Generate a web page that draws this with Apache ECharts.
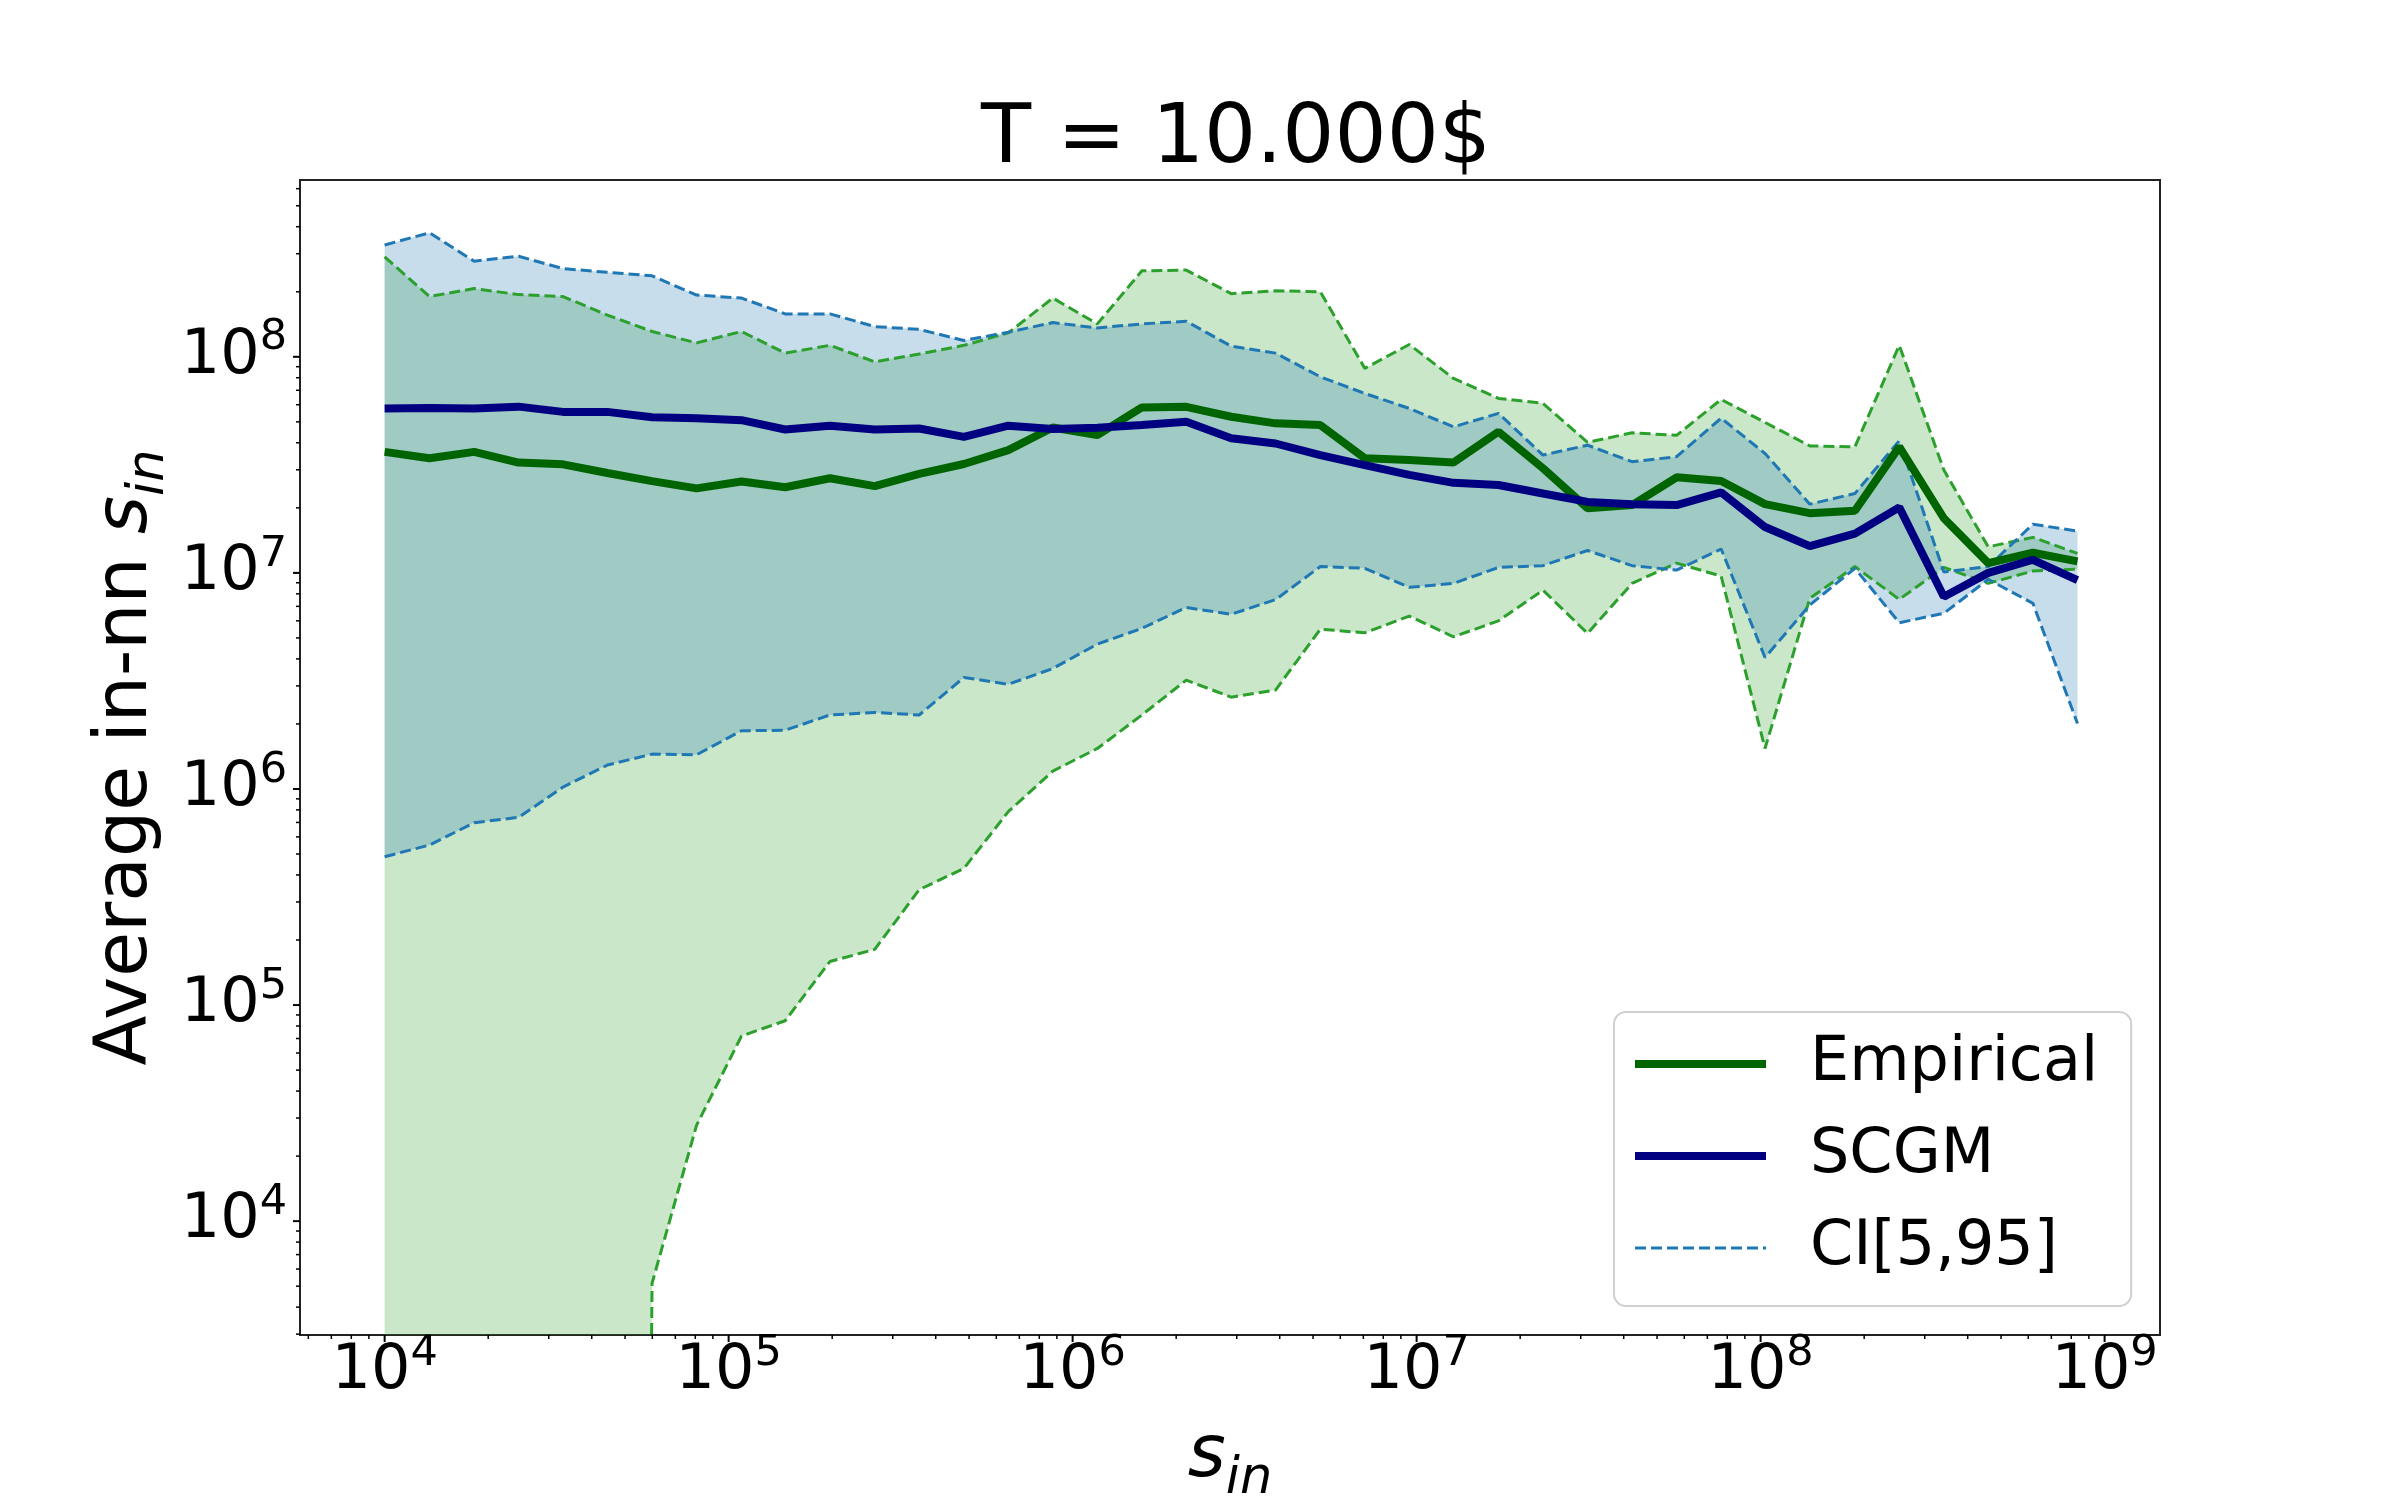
<!DOCTYPE html>
<html lang="en">
<head>
<meta charset="UTF-8">
<title>T = 10.000$</title>
<style>
  html, body { margin: 0; padding: 0; background: #fff; }
  #main { width: 2400px; height: 1500px; }
</style>
</head>
<body>
<div id="main"></div>
<script src="https://cdn.jsdelivr.net/npm/echarts@6/dist/echarts.min.js"></script>
<script>
// bin centres (s_in)
var sIn = [1.00e4, 1.35e4, 1.82e4, 2.45e4, 3.30e4, 4.44e4, 5.99e4, 8.07e4, 1.09e5, 1.46e5,
           1.97e5, 2.66e5, 3.58e5, 4.83e5, 6.50e5, 8.76e5, 1.18e6, 1.59e6, 2.14e6, 2.89e6,
           3.89e6, 5.25e6, 7.07e6, 9.52e6, 1.28e7, 1.73e7, 2.33e7, 3.14e7, 4.23e7, 5.70e7,
           7.68e7, 1.03e8, 1.39e8, 1.88e8, 2.53e8, 3.41e8, 4.59e8, 6.19e8, 8.34e8];

var empirical = [3.63e7, 3.39e7, 3.63e7, 3.24e7, 3.18e7, 2.90e7, 2.66e7, 2.46e7, 2.65e7, 2.49e7,
                 2.74e7, 2.52e7, 2.87e7, 3.19e7, 3.70e7, 4.71e7, 4.34e7, 5.83e7, 5.87e7, 5.28e7,
                 4.92e7, 4.83e7, 3.39e7, 3.33e7, 3.24e7, 4.50e7, 3.05e7, 1.99e7, 2.06e7, 2.77e7,
                 2.66e7, 2.08e7, 1.89e7, 1.94e7, 3.83e7, 1.79e7, 1.11e7, 1.24e7, 1.13e7];

var scgm = [5.77e7, 5.80e7, 5.77e7, 5.88e7, 5.56e7, 5.56e7, 5.25e7, 5.19e7, 5.09e7, 4.61e7,
            4.80e7, 4.61e7, 4.66e7, 4.26e7, 4.80e7, 4.63e7, 4.69e7, 4.83e7, 5.00e7, 4.20e7,
            3.97e7, 3.51e7, 3.15e7, 2.84e7, 2.61e7, 2.55e7, 2.33e7, 2.13e7, 2.08e7, 2.06e7,
            2.36e7, 1.63e7, 1.33e7, 1.52e7, 2.01e7, 7.75e6, 1.00e7, 1.15e7, 9.26e6];

// empirical CI (green); 0 = below the axis in the source
var empLow = [0, 0, 0, 0, 0, 0, 5.16e3, 2.78e4, 7.19e4, 8.46e4,
              1.59e5, 1.81e5, 3.42e5, 4.29e5, 7.85e5, 1.21e6, 1.54e6, 2.20e6, 3.19e6, 2.66e6,
              2.87e6, 5.49e6, 5.28e6, 6.31e6, 5.06e6, 6.00e6, 8.32e6, 5.25e6, 8.94e6, 1.11e7,
              9.66e6, 1.54e6, 7.62e6, 1.07e7, 7.54e6, 1.06e7, 8.94e6, 1.02e7, 1.04e7];
var empHigh = [2.90e8, 1.90e8, 2.07e8, 1.94e8, 1.90e8, 1.56e8, 1.31e8, 1.16e8, 1.31e8, 1.04e8,
               1.13e8, 9.48e7, 1.03e8, 1.13e8, 1.29e8, 1.87e8, 1.42e8, 2.50e8, 2.52e8, 1.96e8,
               2.02e8, 2.00e8, 8.84e7, 1.14e8, 7.94e7, 6.42e7, 6.09e7, 4.02e7, 4.45e7, 4.33e7,
               6.35e7, 4.97e7, 3.87e7, 3.83e7, 1.13e8, 2.99e7, 1.32e7, 1.46e7, 1.23e7];

// model CI (blue)
var modLow = [4.86e5, 5.50e5, 6.98e5, 7.39e5, 1.02e6, 1.29e6, 1.45e6, 1.44e6, 1.86e6, 1.87e6,
              2.20e6, 2.26e6, 2.20e6, 3.28e6, 3.05e6, 3.61e6, 4.68e6, 5.54e6, 6.92e6, 6.43e6,
              7.52e6, 1.07e7, 1.05e7, 8.57e6, 8.94e6, 1.06e7, 1.08e7, 1.27e7, 1.08e7, 1.03e7,
              1.29e7, 4.06e6, 7.10e6, 1.05e7, 5.88e6, 6.50e6, 9.33e6, 7.23e6, 2.01e6];
var modHigh = [3.29e8, 3.75e8, 2.77e8, 2.92e8, 2.56e8, 2.46e8, 2.37e8, 1.93e8, 1.87e8, 1.58e8,
               1.58e8, 1.38e8, 1.34e8, 1.19e8, 1.30e8, 1.44e8, 1.36e8, 1.42e8, 1.46e8, 1.12e8,
               1.04e8, 8.08e7, 6.77e7, 5.77e7, 4.74e7, 5.47e7, 3.51e7, 3.90e7, 3.27e7, 3.45e7,
               5.20e7, 3.57e7, 2.08e7, 2.33e7, 4.09e7, 1.01e7, 1.07e7, 1.68e7, 1.56e7];

var xMajorTicks = [1e4, 1e5, 1e6, 1e7, 1e8, 1e9];
var yMajorTicks = [1e4, 1e5, 1e6, 1e7, 1e8];

var X_MIN = 5675, X_MAX = 1.449e9;
var Y_MIN = 2972, Y_MAX = 6.58e8;
var FONT = 'DejaVu Sans';

// log-axis minor ticks at 2..9 x 10^k
function minorTicks(lo, hi) {
  var out = [];
  for (var k = 2; k <= 9; k++) {
    for (var m = 2; m <= 9; m++) {
      var v = m * Math.pow(10, k);
      if (v > lo && v < hi) out.push(v);
    }
  }
  return out;
}
var xMinorTicks = minorTicks(X_MIN, X_MAX);
var yMinorTicks = minorTicks(Y_MIN, Y_MAX);

function safe(v) { return v > 0 ? v : 1e-20; }
function pts(ys) {
  return sIn.map(function (x, i) { return [x, safe(ys[i])]; });
}

function band(lo, hi, fill) {
  return {
    type: 'custom', clip: true, silent: true, z: 1,
    data: [[sIn[0], hi[0]]],
    renderItem: function (params, api) {
      var top = [], bot = [];
      for (var i = 0; i < sIn.length; i++) {
        top.push(api.coord([sIn[i], hi[i]]));
        bot.unshift(api.coord([sIn[i], safe(lo[i])]));
      }
      return { type: 'polygon', shape: { points: top.concat(bot) }, style: { fill: fill } };
    }
  };
}

function line(name, ys, color, width, dashed, z) {
  return {
    name: name, type: 'line', data: pts(ys), symbol: 'none', z: z,
    lineStyle: { color: color, width: width, type: dashed ? [11, 5] : 'solid' },
    itemStyle: { color: color },
    emphasis: { disabled: true }
  };
}

var supRich = {
  b: { fontSize: 62, lineHeight: 62, fontFamily: FONT, color: '#000', verticalAlign: 'bottom' },
  s: { fontSize: 43, lineHeight: 43, fontFamily: FONT, color: '#000', verticalAlign: 'bottom', padding: [0, 0, 28, 0] }
};
function expLabel(v) {
  var e = Math.log10(v), r = Math.round(e);
  if (Math.abs(e - r) > 1e-6) return '';
  return '{b|10}{s|' + r + '}';
}
var nameRich = {
  n: { fontSize: 73, lineHeight: 73, fontFamily: FONT, color: '#000', verticalAlign: 'bottom', padding: [0, 0, 11, 0] },
  i: { fontSize: 73, lineHeight: 73, fontFamily: FONT, fontStyle: 'italic', color: '#000', verticalAlign: 'bottom', padding: [0, 0, 11, 0] },
  sub: { fontSize: 51, lineHeight: 51, fontFamily: FONT, fontStyle: 'italic', color: '#000', verticalAlign: 'bottom' }
};

var ticks = {
  type: 'custom', silent: true, clip: false, z: 10,
  data: [[1e6, 1e6]],
  renderItem: function (params, api) {
    var cs = params.coordSys;
    var bottom = cs.y + cs.height, left = cs.x;
    var kids = [];
    function add(x1, y1, x2, y2, w) {
      kids.push({ type: 'line', shape: { x1: x1, y1: y1, x2: x2, y2: y2 }, style: { stroke: '#000', lineWidth: w } });
    }
    xMajorTicks.forEach(function (v) { var x = api.coord([v, 1e6])[0]; add(x, bottom, x, bottom + 7, 2); });
    xMinorTicks.forEach(function (v) { var x = api.coord([v, 1e6])[0]; add(x, bottom, x, bottom + 4, 1.5); });
    yMajorTicks.forEach(function (v) { var y = api.coord([1e6, v])[1]; add(left, y, left - 7, y, 2); });
    yMinorTicks.forEach(function (v) { var y = api.coord([1e6, v])[1]; add(left, y, left - 4, y, 1.5); });
    return { type: 'group', children: kids };
  }
};

var myChart = echarts.init(document.getElementById('main'));
var option = {
  animation: false,
  backgroundColor: '#fff',
  title: {
    text: 'T = 10.000$', left: 1236, top: 100, textAlign: 'center', padding: 0,
    textStyle: { fontSize: 82, fontWeight: 'normal', fontFamily: FONT, color: '#000' }
  },
  grid: {
    left: 300, top: 180, right: 240, bottom: 165,
    show: true, borderColor: '#222', borderWidth: 2, backgroundColor: 'transparent',
    outerBoundsMode: 'none'
  },
  legend: {
    data: [
      { name: 'Empirical', lineStyle: { width: 8 } },
      { name: 'SCGM', lineStyle: { width: 8 } },
      { name: 'CI[5,95]', lineStyle: { width: 3 } }
    ],
    orient: 'vertical', left: 1614, top: 1012,
    itemWidth: 131, itemHeight: 2, itemGap: 30,
    padding: [21, 33, 27, 17],
    itemStyle: { opacity: 0 },
    backgroundColor: 'rgba(255,255,255,0.8)', borderColor: '#d0d0d0', borderWidth: 2, borderRadius: 12,
    selectedMode: false,
    textStyle: { fontSize: 62, lineHeight: 62, fontFamily: FONT, color: '#000', padding: [0, 0, 0, 39] }
  },
  xAxis: {
    type: 'log', logBase: 10, min: X_MIN, max: X_MAX,
    axisLine: { show: false }, axisTick: { show: false }, splitLine: { show: false },
    axisLabel: { interval: 0, margin: 6, formatter: expLabel, rich: supRich },
    name: '{i|s}{sub|in}', nameLocation: 'middle', nameGap: 97, nameMoveOverlap: false,
    nameTextStyle: { rich: nameRich }
  },
  yAxis: {
    type: 'log', logBase: 10, min: Y_MIN, max: Y_MAX,
    axisLine: { show: false }, axisTick: { show: false }, splitLine: { show: false },
    axisLabel: { interval: 0, margin: 13, formatter: expLabel, rich: supRich },
    name: '{n|Average in-nn }{i|s}{sub|in}', nameLocation: 'middle', nameGap: 125, nameMoveOverlap: false,
    nameTextStyle: { rich: nameRich }
  },
  series: [
    band(empLow, empHigh, 'rgba(44,160,44,0.25)'),
    band(modLow, modHigh, 'rgba(31,119,180,0.25)'),
    line('', empLow, '#2ca02c', 3, true, 2),
    line('', empHigh, '#2ca02c', 3, true, 2),
    line('', modLow, '#1f77b4', 3, true, 2),
    line('CI[5,95]', modHigh, '#1f77b4', 3, true, 2),
    line('Empirical', empirical, '#006400', 8, false, 3),
    line('SCGM', scgm, '#000080', 8, false, 3),
    ticks
  ]
};
myChart.setOption(option);
</script>
</body>
</html>
